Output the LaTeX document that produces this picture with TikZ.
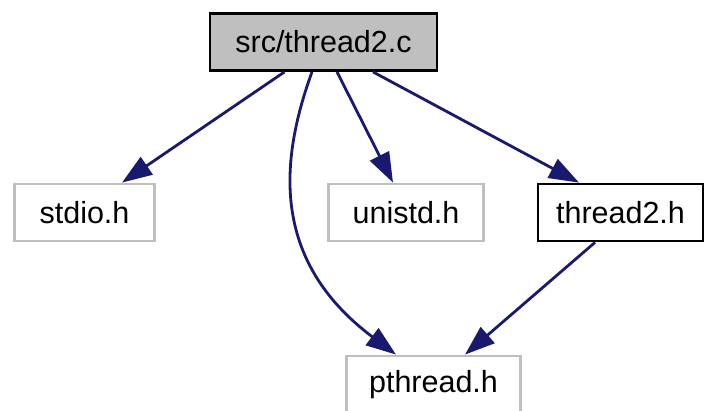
\documentclass[tikz,border=0pt]{standalone}
\usepackage{fontspec}
\setmainfont{Liberation Sans}
\usetikzlibrary{arrows.meta}
\definecolor{edgeblue}{HTML}{191970}
\definecolor{boxgray}{HTML}{BFBFBF}
\begin{document}
\begin{tikzpicture} [x=1pt, y=-1pt, font=\fontsize{30.5}{36}\selectfont, line join = miter,
		hdr/.style = {draw=boxgray, line width=2.8pt, minimum height=57pt, inner sep=0pt},
		doc/.style = {hdr, draw=black},
		edge/.style = {draw=edgeblue, line width=2.8pt, -{Triangle[length=30pt, width=21pt]}}]
	\useasboundingbox (0,0) rectangle (704,410);
	\node[doc, fill=boxgray, minimum width=227pt] (src) at (323.5,42) {src/thread2.c};
	\node[hdr, minimum width=140pt] (stdio) at (84.5,212.5) {stdio.h};
	\node[hdr, minimum width=155pt] (unistd) at (406,212.5) {unistd.h};
	\node[doc, minimum width=165pt] (thread) at (620.5,212.5) {thread2.h};
	\node[hdr, minimum width=174pt] (pthread) at (433.5,384.5) {pthread.h};
	\draw[edge] ([xshift=-39pt]src.south) -- ([xshift=37.5pt]stdio.north);
	\draw[edge] ([xshift=13.5pt]src.south) -- ([xshift=-13pt]unistd.north);
	\draw[edge] ([xshift=49.5pt]src.south) -- ([xshift=-41.5pt]thread.north);
	\draw[edge] ([xshift=-11.5pt]src.south) .. controls (280,160) and (270,260) .. ([xshift=-37.5pt]pthread.north);
	\draw[edge] ([xshift=-25.5pt]thread.south) -- ([xshift=31.5pt]pthread.north);
\end{tikzpicture}
\end{document}
